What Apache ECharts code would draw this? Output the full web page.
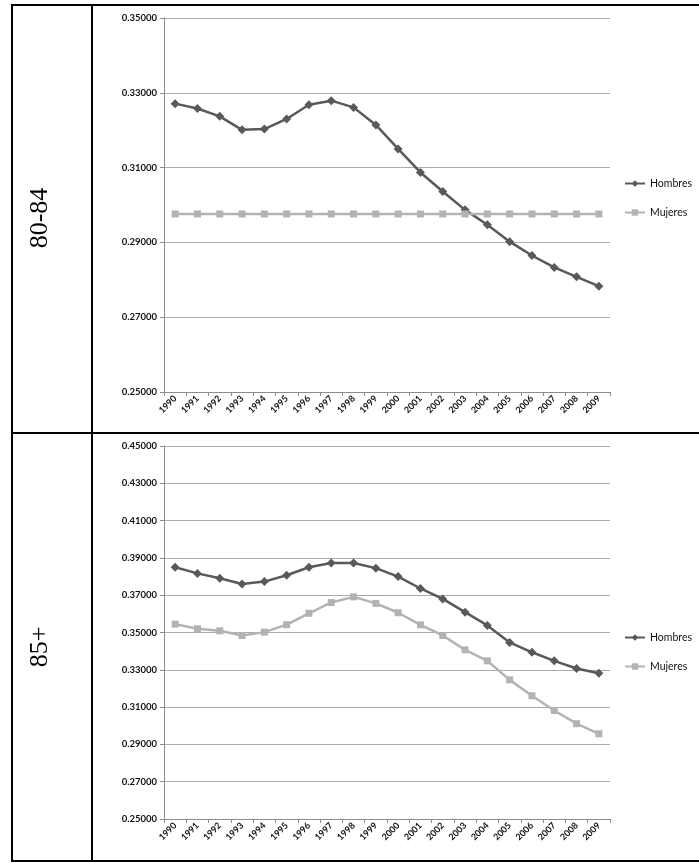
<!DOCTYPE html>
<html>
<head>
<meta charset="utf-8">
<script src="https://cdn.jsdelivr.net/npm/echarts@6/dist/echarts.min.js"></script>
<style>
html,body{margin:0;padding:0;background:#fff;}
#c{width:699px;height:863px;}
</style>
</head>
<body>
<div id="c"></div>
<script>
var years = ['1990','1991','1992','1993','1994','1995','1996','1997','1998','1999','2000','2001','2002','2003','2004','2005','2006','2007','2008','2009'];
var hombres8084 = [0.3271,0.3258,0.3237,0.3201,0.3203,0.3230,0.3268,0.3279,0.3261,0.3214,0.3150,0.3087,0.3036,0.2987,0.2947,0.2902,0.2865,0.2833,0.2808,0.2783];
var mujeres8084 = [0.2976,0.2976,0.2976,0.2976,0.2976,0.2976,0.2976,0.2976,0.2976,0.2976,0.2976,0.2976,0.2976,0.2976,0.2976,0.2976,0.2976,0.2976,0.2976,0.2976];
var hombres85 = [0.3850,0.3817,0.3791,0.3760,0.3773,0.3807,0.3850,0.3873,0.3873,0.3845,0.3800,0.3736,0.3680,0.3609,0.3538,0.3447,0.3394,0.3348,0.3307,0.3282];
var mujeres85 = [0.3545,0.3520,0.3509,0.3484,0.3502,0.3542,0.3603,0.3661,0.3691,0.3656,0.3606,0.3541,0.3484,0.3407,0.3348,0.3246,0.3161,0.3082,0.3011,0.2957];
var groupLabels = ['80-84','85+'];
var seriesNames = ['Hombres','Mujeres'];

var darkC = '#595959', lightC = '#b3b3b3';
var chart = echarts.init(document.getElementById('c'), null, {renderer:'canvas'});

function xAxis(idx){
  return {
    type:'category', gridIndex:idx, data:years, boundaryGap:true,
    axisLine:{lineStyle:{color:'#8c8c8c',width:1}},
    axisTick:{show:true, length:4, alignWithLabel:false, lineStyle:{color:'#8c8c8c'}},
    axisLabel:{interval:0, rotate:45, fontFamily:'Lato', fontWeight:'bold', fontSize:9, color:'#111', margin:5},
    splitLine:{show:false}
  };
}
function yAxis(idx, min, max){
  return {
    type:'value', gridIndex:idx, min:min, max:max, interval:0.02,
    axisLine:{show:true, lineStyle:{color:'#8c8c8c',width:1}},
    axisTick:{show:true, length:4, lineStyle:{color:'#8c8c8c'}},
    axisLabel:{fontFamily:'Lato', fontWeight:'bold', fontSize:9.5, color:'#111', margin:7,
      formatter:function(v){return v.toFixed(5);}},
    splitLine:{show:true, lineStyle:{color:'#ababab',width:1}}
  };
}
function line(name, data, idx, color, symbol, size){
  return {
    name:name, type:'line', xAxisIndex:idx, yAxisIndex:idx, data:data,
    symbol:symbol, symbolSize:size, showSymbol:true,
    lineStyle:{color:color, width:2.5}, itemStyle:{color:color},
    emphasis:{disabled:true}, animation:false, z:3
  };
}
function legend(idx, top){
  return {
    orient:'vertical', left:619, top:top, itemGap:18, itemWidth:20, itemHeight:8,
    textStyle:{fontFamily:'Lato', fontSize:10.5, color:'#111'},
    data:seriesNames.map(function(n){return {name:n};}),
    selectedMode:false
  };
}

var B = '#000';
var option = {
  animation:false,
  grid:[
    {left:164, top:18, width:446, height:374},
    {left:164, top:446, width:446, height:373}
  ],
  xAxis:[xAxis(0), xAxis(1)],
  yAxis:[yAxis(0,0.25,0.35), yAxis(1,0.25,0.45)],
  legend:[legend(0, 173), legend(1, 627)],
  series:[
    line(seriesNames[0], hombres8084, 0, darkC, 'diamond', 9),
    line(seriesNames[1], mujeres8084, 0, lightC, 'rect', 7),
    line(seriesNames[0], hombres85, 1, darkC, 'diamond', 9),
    line(seriesNames[1], mujeres85, 1, lightC, 'rect', 7)
  ],
  graphic:[
    {type:'line', shape:{x1:12,y1:4,x2:12,y2:862}, style:{stroke:B,lineWidth:2}, silent:true},
    {type:'line', shape:{x1:92,y1:4,x2:92,y2:862}, style:{stroke:B,lineWidth:2}, silent:true},
    {type:'line', shape:{x1:11,y1:5,x2:699,y2:5}, style:{stroke:B,lineWidth:2}, silent:true},
    {type:'line', shape:{x1:11,y1:433,x2:699,y2:433}, style:{stroke:B,lineWidth:2}, silent:true},
    {type:'line', shape:{x1:11,y1:861,x2:699,y2:861}, style:{stroke:B,lineWidth:2}, silent:true},
    {type:'text', x:40, y:218, rotation:Math.PI/2,
      style:{text:groupLabels[0], font:'26px "Liberation Serif"', fill:'#000', align:'center', verticalAlign:'middle'}, silent:true},
    {type:'text', x:40, y:647, rotation:Math.PI/2,
      style:{text:groupLabels[1], font:'26px "Liberation Serif"', fill:'#000', align:'center', verticalAlign:'middle'}, silent:true}
  ]
};
chart.setOption(option);
</script>
</body>
</html>
